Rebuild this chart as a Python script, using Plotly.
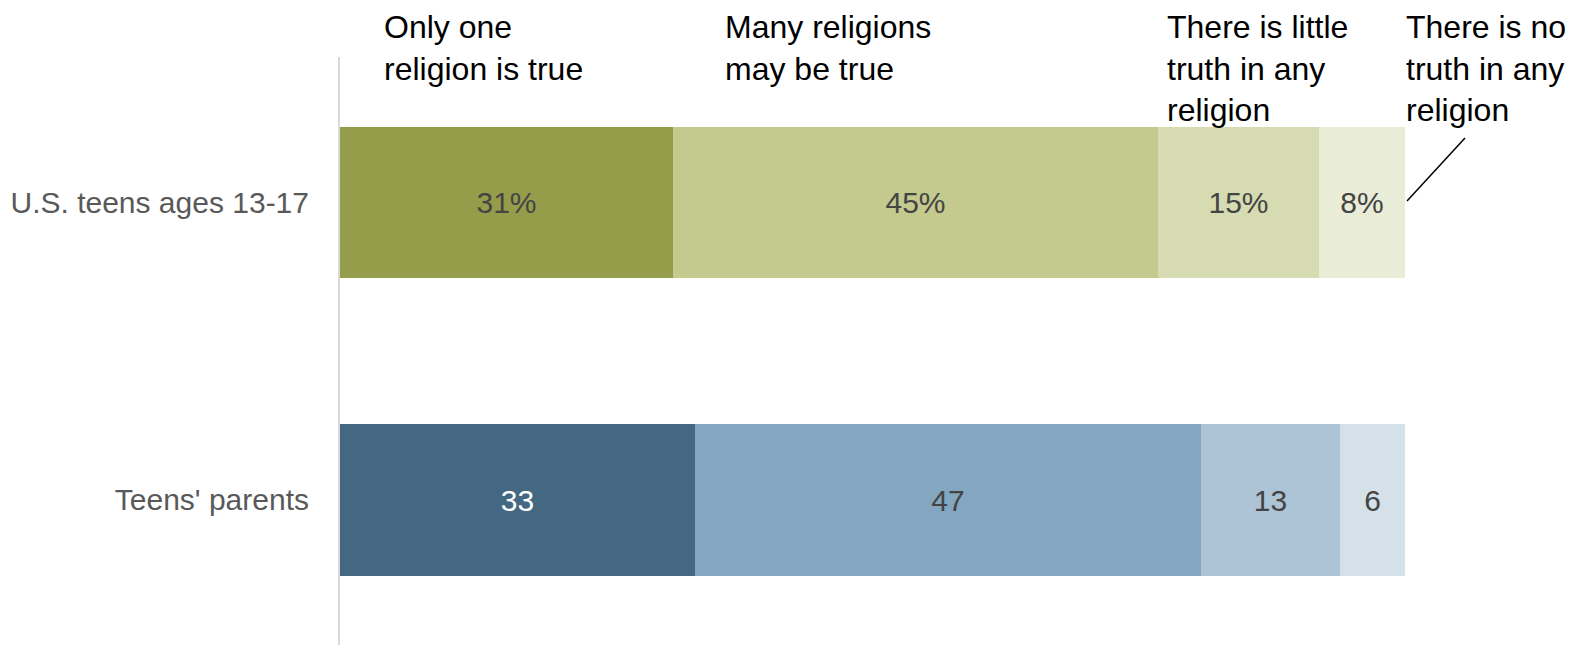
import plotly.graph_objects as go

groups = ["U.S. teens ages 13-17", "Teens' parents"]
responses = ["Only one<br>religion is true", "Many religions<br>may be true",
             "There is little<br>truth in any<br>religion", "There is no<br>truth in any<br>religion"]
teens = [31, 45, 15, 8]
parents = [33, 47, 13, 6]
teen_colors = ["#959d4b", "#c4ca8e", "#d6dbb1", "#e9ecd6"]
parent_colors = ["#446882", "#83a7c0", "#adc3d6", "#d4e1e9"]
teen_text_colors = ["#444444", "#444444", "#444444", "#444444"]
parent_text_colors = ["#ffffff", "#444444", "#444444", "#444444"]

W, H = 1570, 637
L, R, T, B = 332, 173, 49, 0
pw, ph = W - L - R, H - T - B

def px(x):
    return (x - L) / pw

def py(y):
    return (H - B - y) / ph

fig = go.Figure()
for i, resp in enumerate(responses):
    fig.add_trace(go.Bar(
        orientation="h",
        y=groups,
        x=[teens[i], parents[i]],
        text=[f"{teens[i]}%", f"{parents[i]}"],
        textposition="inside",
        insidetextanchor="middle",
        textangle=0,
        constraintext="none",
        textfont=dict(family="Liberation Sans, Arial, sans-serif", size=30,
                      color=[teen_text_colors[i], parent_text_colors[i]]),
        marker=dict(color=[teen_colors[i], parent_colors[i]], line=dict(width=0)),
        width=0.51,
        showlegend=False,
        hoverinfo="skip",
    ))

header_x = [374, 715, 1157, 1396]
for hx, resp in zip(header_x, responses):
    fig.add_annotation(
        text=resp, xref="paper", yref="paper", x=px(hx), y=py(-1),
        xanchor="left", yanchor="top", align="left", showarrow=False,
        font=dict(family="Liberation Sans, Arial, sans-serif", size=32, color="#000000"),
    )

fig.add_shape(type="line", xref="paper", yref="paper",
              x0=px(1399), y0=py(193), x1=px(1457), y1=py(130),
              line=dict(color="#000000", width=1.5))

fig.update_layout(
    width=W, height=H,
    margin=dict(l=L, r=R, t=T, b=B, pad=0),
    barmode="stack",
    bargap=0,
    plot_bgcolor="white",
    paper_bgcolor="white",
    xaxis=dict(range=[0, 99], visible=False, fixedrange=True),
    yaxis=dict(
        type="category",
        range=[1.488, -0.49],
        showline=True, linecolor="#d9d9d9", linewidth=2,
        showgrid=False, zeroline=False,
        ticks="", ticklabelstandoff=23,
        tickfont=dict(family="Liberation Sans, Arial, sans-serif", size=30, color="#595959"),
    ),
)

fig.write_html("out.html")
